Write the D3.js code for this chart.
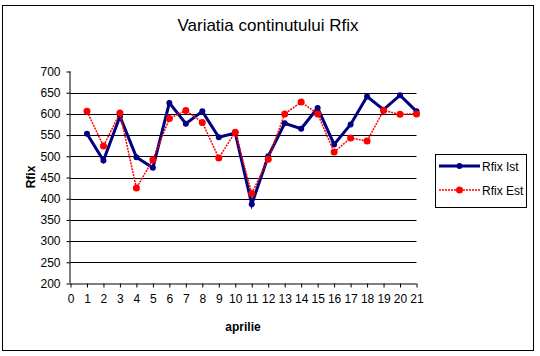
<!DOCTYPE html>
<html><head><meta charset="utf-8">
<script src="https://cdn.jsdelivr.net/npm/d3@7"></script>
<style>body{margin:0;background:#fff}svg{display:block;font-family:"Liberation Sans",Arial,sans-serif}</style>
</head><body>
<svg id="c" width="540" height="356"></svg>
<script>
const days = [1,2,3,4,5,6,7,8,9,10,11,12,13,14,15,16,17,18,19,20,21];
const rfixIst = [553,490,594,498,473,626,577,606,545,555,387,500,578,565,614,528,575,641,610,644,606];
const rfixEst = [606,524,602,425,492,589,608,580,496,557,412,493,600,628,600,510,543,536,608,599,600];
const seriesNames = ["Rfix Ist","Rfix Est"];
const xTicks = d3.range(0,22);
const yTicks = [200,250,300,350,400,450,500,550,600,650,700];

const svg = d3.select("#c");
svg.append("rect").attr("x",2.5).attr("y",5.5).attr("width",531).attr("height",345)
  .attr("fill","#fff").attr("stroke","#000").attr("stroke-width",1);

const x = d3.scaleLinear().domain([0,21]).range([70.5,416.5]);
const y = d3.scaleLinear().domain([200,700]).range([283.5,71.5]);

// gridlines
svg.append("g").selectAll("line").data(yTicks.filter(v=>v>200 && v<700)).join("line")
  .attr("x1",x(0)).attr("x2",x(21)).attr("y1",d=>Math.round(y(d))+0.5).attr("y2",d=>Math.round(y(d))+0.5)
  .attr("stroke","#000").attr("stroke-width",1);

// axes
const yAxis = d3.axisLeft(y).tickValues(yTicks).tickSize(4).tickPadding(6).tickFormat(d3.format("d"));
const gy = svg.append("g").attr("transform",`translate(${x(0)},0)`).call(yAxis);
const xAxis = d3.axisBottom(x).tickValues(xTicks).tickSize(4).tickPadding(7).tickFormat(d3.format("d"));
const gx = svg.append("g").attr("transform",`translate(0,${y(200)})`).call(xAxis);
[gy,gx].forEach(g=>{
  g.select(".domain").attr("stroke","#000");
  g.selectAll(".tick line").attr("stroke","#000");
  g.selectAll("text").attr("font-size",12).attr("fill","#000").attr("font-family",'"Liberation Sans",Arial,sans-serif');
});
gx.select(".domain").attr("d",`M${x(0)},0.5H${x(21)}`);
gy.select(".domain").attr("d",`M-0.5,${y(700)}V${y(200)}`);

// series
const line = d3.line().x((d,i)=>x(days[i])).y(d=>y(d));
svg.append("path").datum(rfixIst).attr("d",line).attr("fill","none")
  .attr("stroke","#000080").attr("stroke-width",3);
svg.append("g").selectAll("circle").data(rfixIst).join("circle")
  .attr("cx",(d,i)=>x(days[i])).attr("cy",d=>y(d)).attr("r",3).attr("fill","#000080");
svg.append("path").datum(rfixEst).attr("d",line).attr("fill","none")
  .attr("stroke","#ff0000").attr("stroke-width",1.5).attr("stroke-dasharray","2,1");
svg.append("g").selectAll("circle").data(rfixEst).join("circle")
  .attr("cx",(d,i)=>x(days[i])).attr("cy",d=>y(d)).attr("r",3.5).attr("fill","#ff0000");

// titles
svg.append("text").attr("x",268).attr("y",31).attr("text-anchor","middle")
  .attr("font-size",17).text("Variatia continutului Rfix");
svg.append("text").attr("x",243).attr("y",331).attr("text-anchor","middle")
  .attr("font-size",12).attr("font-weight","bold").text("aprilie");
svg.append("text").attr("transform","translate(35,177) rotate(-90)").attr("text-anchor","middle")
  .attr("font-size",12).attr("font-weight","bold").text("Rfix");

// legend
const lg = svg.append("g");
lg.append("rect").attr("x",435.5).attr("y",154.5).attr("width",91).attr("height",53)
  .attr("fill","#fff").attr("stroke","#000");
const colors = ["#000080","#ff0000"];
seriesNames.forEach((n,i)=>{
  const yy = 166 + i*24;
  const l = lg.append("line").attr("x1",439).attr("x2",480).attr("y1",yy).attr("y2",yy)
    .attr("stroke",colors[i]).attr("stroke-width",i===0?3:1.5);
  if(i===1) l.attr("stroke-dasharray","2,1");
  lg.append("circle").attr("cx",459.5).attr("cy",yy).attr("r",i===0?3:3.5).attr("fill",colors[i]);
  lg.append("text").attr("x",482).attr("y",yy+4.5).attr("font-size",12).text(n);
});
</script>
</body></html>
